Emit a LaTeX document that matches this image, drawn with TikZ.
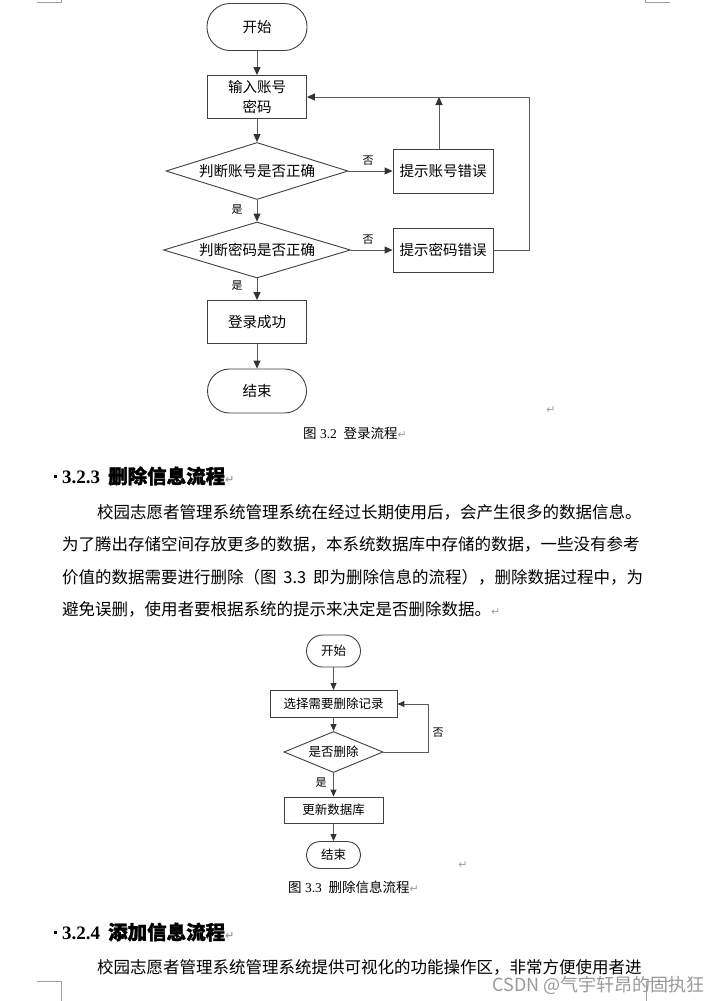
\documentclass[tikz,border=0pt]{standalone}
\usepackage{fontspec}
\setmainfont{Liberation Serif}
\newfontfamily\cjk{Noto Sans CJK SC}
\newfontfamily\cjkb{Noto Sans CJK SC}[FakeBold=1.5]
\newfontfamily\sym{DejaVu Sans}
\usetikzlibrary{shapes.geometric,arrows.meta}
\definecolor{ln}{HTML}{5A5A5A}
\definecolor{bd}{HTML}{404040}
\definecolor{mk}{HTML}{A0A0A0}
\newcommand{\ret}{{\sym\color{mk}\fontsize{11}{11}\selectfont ↵}}
\tikzset{
  term/.style={draw=bd, line width=0.9pt, rectangle, rounded corners=#1, inner sep=0pt},
  proc/.style={draw=bd, line width=0.9pt, rectangle, inner sep=0pt},
  dec/.style={draw=bd, line width=0.9pt, diamond, aspect=3, inner sep=0pt},
  big/.style={font=\cjk\fontsize{14.5}{20}\selectfont, align=center},
  small/.style={font=\cjk\fontsize{12.5}{14}\selectfont, align=center},
  flow/.style={draw=ln, line width=1pt, -{Triangle[length=8pt,width=7pt,color=black!80]}},
  flowb/.style={draw=ln, line width=1pt, -{Triangle[length=7pt,width=6pt,color=black!80]}},
  lbl/.style={font=\cjk\fontsize{11}{12}\selectfont, inner sep=0pt},
  body/.style={font=\cjk\fontsize{16.5}{18}\selectfont, anchor=west, inner sep=0pt},
  head/.style={anchor=west, inner sep=0pt},
  caption/.style={anchor=west, inner sep=0pt, font=\fontsize{13.5}{14}\selectfont},
  corner/.style={draw=mk, line width=1pt}
}
\begin{document}
\begin{tikzpicture}[x=1pt,y=-1pt]
\useasboundingbox[fill=white] (0,0) rectangle (720,1001);

% page corner marks
\draw[corner] (37,2) -- (61,2) -- (61,0);
\draw[corner] (645,0) -- (645,2) -- (670,2);
\draw[corner] (37,981) -- (61,981) -- (61,1001);
\draw[corner] (670,981) -- (646,981) -- (646,1001);

% ---------- Figure 3.2 ----------
\node[term=23, big, minimum width=100, minimum height=47] (s) at (257,27) {开始};
\node[proc, big, minimum width=99, minimum height=43] (in) at (257,97) {输入账号\\密码};
\node[dec, big, minimum width=182, minimum height=57] (d1) at (257,171) {判断账号是否正确};
\node[proc, big, minimum width=100, minimum height=44] (e1) at (443,171) {提示账号错误};
\node[dec, big, minimum width=187, minimum height=56] (d2) at (257,250) {判断密码是否正确};
\node[proc, big, minimum width=100, minimum height=44] (e2) at (443,250) {提示密码错误};
\node[proc, big, minimum width=99, minimum height=43] (ok) at (257,322) {登录成功};
\node[term=22, big, minimum width=99, minimum height=44] (en) at (257,391) {结束};
\coordinate (r) at (529,0);

\draw[flow] (s) -- (in);
\draw[flow] (in) -- (d1);
\draw[flow] (d1.east) -- (e1.west);
\draw[flow] ([xshift=-4pt]e1.north) -- ([xshift=-4pt]e1.north |- in.east);
\draw[flow] (d1.south) -- (d2.north);
\draw[flow] (d2.east) -- (e2.west);
\draw[flow] (e2.east) -- (e2.east -| r) -- (r |- in.east) -- (in.east);
\draw[flow] (d2.south) -- (ok.north);
\draw[flow] (ok) -- (en);

\node[lbl] (n1) at (368,161) {否};
\node[lbl] (y1) at (237,210) {是};
\node[lbl] (n2) at (368,240) {否};
\node[lbl] (y2) at (237,286) {是};
\node[inner sep=0pt] (m1) at (551,410) {\ret};
\node[caption] (c1) at (303,433) {{\cjk 图} 3.2\ \ {\cjk 登录流程}\ret};

% ---------- Section 3.2.3 ----------
\fill (53.5,474.5) rectangle (56.5,477.5);
\node[head] (h1) at (62,476) {\fontsize{19}{20}\selectfont\bfseries 3.2.3\hspace{8pt}{\cjkb\fontsize{19.5}{20}\selectfont 删除信息流程}\ret};
\node[body] (p1) at (97,512) {校园志愿者管理系统管理系统在经过长期使用后，会产生很多的数据信息。};
\node[body] (p2) at (62,544) {为了腾出存储空间存放更多的数据，本系统数据库中存储的数据，一些没有参考};
\node[body] (p3) at (62,577) {\makebox[581pt][l]{价值的数据需要进行删除（图\hfill 3.3\hfill 即为删除信息的流程），删除数据过程中，为}};
\node[body] (p4) at (62,609) {避免误删，使用者要根据系统的提示来决定是否删除数据。\ret};

% ---------- Figure 3.3 ----------
\node[term=16, small, minimum width=54, minimum height=32] (s2) at (333.5,651) {开始};
\node[proc, small, minimum width=127, minimum height=27] (sel) at (333.5,704) {选择需要删除记录};
\node[dec, small, minimum width=99, minimum height=41] (d3) at (333.5,752) {是否删除};
\node[proc, small, minimum width=99, minimum height=26] (upd) at (333.5,810) {更新数据库};
\node[term=13, small, minimum width=54, minimum height=27] (e3) at (333.5,855) {结束};
\coordinate (r2) at (428,0);

\draw[flowb] (s2) -- (sel);
\draw[flowb] (sel) -- (d3);
\draw[flowb] (d3.east) -- (d3.east -| r2) -- (r2 |- sel.east) -- (sel.east);
\draw[flowb] (d3) -- (upd);
\draw[flowb] (upd) -- (e3);
\node[lbl] (n3) at (438,733) {否};
\node[lbl] (y3) at (321,783) {是};
\node[inner sep=0pt] (m2) at (463,865) {\ret};
\node[caption] (c2) at (288,887) {{\cjk 图} 3.3\ \ {\cjk 删除信息流程}\ret};

% ---------- Section 3.2.4 ----------
\fill (53.5,930.5) rectangle (56.5,933.5);
\node[head] (h2) at (62,932) {\fontsize{19}{20}\selectfont\bfseries 3.2.4\hspace{8pt}{\cjkb\fontsize{19.5}{20}\selectfont 添加信息流程}\ret};
\node[body] (p5) at (97,967) {校园志愿者管理系统管理系统提供可视化的功能操作区，非常方便使用者进};

% watermark
\node[anchor=east, inner sep=0pt, text=black!40, font=\cjk\fontsize{18}{19}\selectfont] (wm) at (705,985) {CSDN @气宇轩昂的固执狂};
\end{tikzpicture}
\end{document}
